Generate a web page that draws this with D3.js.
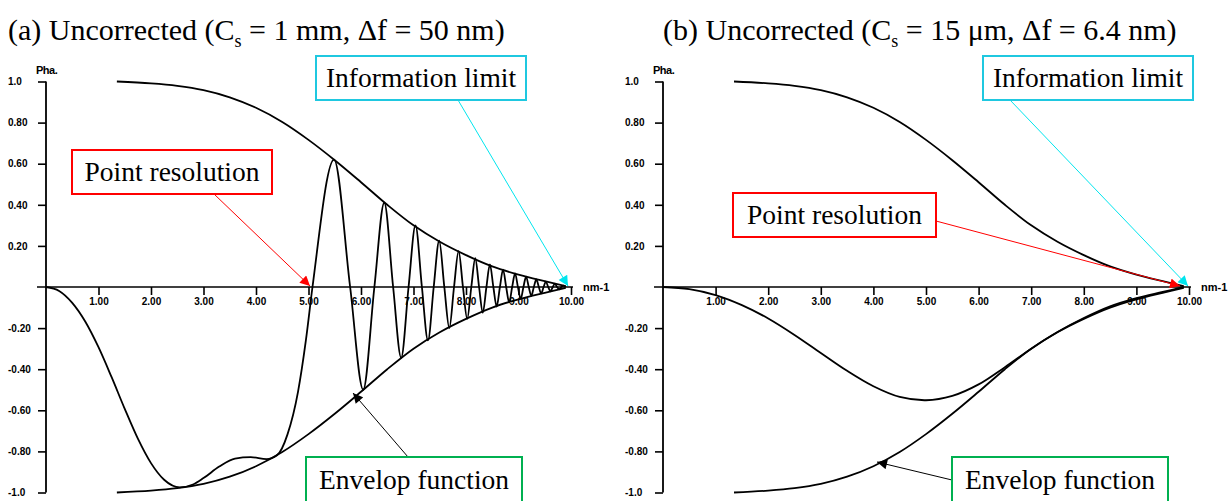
<!DOCTYPE html>
<html><head><meta charset="utf-8">
<script src="https://cdn.jsdelivr.net/npm/d3@7"></script>
<style>
html,body{margin:0;padding:0;background:#fff;}
svg{display:block;}
</style></head>
<body>
<svg id="c" width="1229" height="501"></svg>
<script>
// ---------------- data ----------------
const xTicks = [1,2,3,4,5,6,7,8,9,10];
const xTickLabels = ["1.00","2.00","3.00","4.00","5.00","6.00","7.00","8.00","9.00","10.00"];
const yTicks = [1.0,0.8,0.6,0.4,0.2,-0.2,-0.4,-0.6,-0.8,-1.0];
const yTickLabels = ["1.0","0.80","0.60","0.40","0.20","-0.20","-0.40","-0.60","-0.80","-1.0"];
const yAxisTitle = "Pha.";
const xAxisUnit = "nm-1";

// envelope function (shared)
const envK = [1.35,2.0,2.5,3.0,3.5,4.0,4.5,5.0,5.5,6.0,6.5,7.0,7.5,8.0,8.5,9.0,9.5,9.9];
const envV = [1.0,0.991,0.979,0.958,0.923,0.872,0.803,0.716,0.617,0.51,0.40,0.30,0.22,0.155,0.10,0.06,0.028,0.004];

// (a) Cs = 1 mm, df = 50 nm : phase contrast transfer
const ctfA_k = [0,0.25,0.5,0.75,1.0,1.25,1.5,1.75,2.0,2.25,2.55,2.8,3.0,3.3,3.6,3.9,4.2,4.4,4.6,4.8,4.95,5.076,
  5.487,5.793,6.042,6.255,6.443,6.612,6.765,6.906,7.038,7.160,7.276,7.385,7.489,7.587,7.682,7.772,7.859,7.942,
  8.023,8.101,8.176,8.249,8.320,8.389,8.455,8.521,8.584,8.646,8.706,8.765,8.823,8.879,8.935,8.989,9.042,9.094,
  9.145,9.195,9.244,9.292,9.340,9.387,9.433,9.478,9.522,9.566,9.609,9.652,9.693,9.735,9.776,9.816,9.856,9.9];
const ctfA_v = [0,-0.019,-0.077,-0.169,-0.293,-0.439,-0.593,-0.738,-0.857,-0.938,-0.975,-0.961,-0.930,-0.874,-0.835,-0.828,-0.838,-0.819,-0.717,-0.51,-0.26,0,
  0.62,0,-0.50,0,0.41,0,-0.345,0,0.30,0,-0.26,0,0.225,0,-0.20,0,0.175,0,
  -0.155,0,0.14,0,-0.125,0,0.11,0,-0.095,0,0.085,0,-0.075,0,0.066,0,-0.058,0,
  0.05,0,-0.043,0,0.037,0,-0.031,0,0.026,0,-0.021,0,0.016,0,-0.011,0,0.007,0];

// (b) Cs = 15 um, df = 6.4 nm
const ctfB_k = [0,0.5,1.0,1.5,2.0,2.5,3.0,3.5,4.0,4.5,5.0,5.5,6.0,6.5,7.0,7.5,8.0,8.5,9.0,9.5,9.9];
const ctfB_v = [0,-0.01,-0.039,-0.088,-0.153,-0.233,-0.321,-0.408,-0.483,-0.535,-0.551,-0.530,-0.474,-0.39,-0.30,-0.219,-0.151,-0.094,-0.054,-0.024,0];

const titles = ["(a) Uncorrected (C", "(b) Uncorrected (C"];
const titleSub = "s";
const titleRest = [" = 1 mm, \u0394f = 50 nm)", " = 15 \u03bcm, \u0394f = 6.4 nm)"];
const notes = ["Information limit","Point resolution","Envelop function"];

// ---------------- drawing ----------------
const svg = d3.select("#c");
const defs = svg.append("defs");
[["cy","#00e5ee"],["rd","#ff0000"],["bk","#000000"]].forEach(([id,col])=>{
  defs.append("marker").attr("id","m"+id).attr("viewBox","0 0 10 10")
    .attr("refX",10).attr("refY",5).attr("markerWidth",12).attr("markerHeight",10)
    .attr("markerUnits","userSpaceOnUse").attr("orient","auto")
    .append("path").attr("d","M0,0L10,5L0,10Z").attr("fill",col);
});

const panels = [
  {x0:46, x1:571, labelX:8, ctfK:ctfA_k, ctfV:ctfA_v, t:0, tx:8, ctfCurve:d3.curveMonotoneX,
   info:{box:[316,56,210,44], from:[458,100], to:[568,286]},
   pr:{box:[72,150,200,44], from:[214,194], to:[310,286]},
   env:{box:[306,457,216,46], from:[408,457], to:[353,393]}},
  {x0:663, x1:1189, labelX:625, ctfK:ctfB_k, ctfV:ctfB_v, t:1, tx:663, ctfCurve:d3.curveCatmullRom,
   info:{box:[983,56,210,44], from:[1010,100], to:[1188,286]},
   pr:{box:[733,193,203,44], from:[936,221], to:[1180,286]},
   env:{box:[952,457,216,46], from:[952,480], to:[877,462]}}
];

const y = d3.scaleLinear().domain([-1,1]).range([492.5,81.5]);

panels.forEach(p=>{
  const x = d3.scaleLinear().domain([0,10]).range([p.x0,p.x1]);
  const g = svg.append("g");

  // axes lines
  g.append("line").attr("x1",p.x0-9).attr("x2",x(10)+2).attr("y1",y(0)).attr("y2",y(0))
    .attr("stroke","#000").attr("stroke-width",1.6);
  g.append("line").attr("x1",p.x0).attr("x2",p.x0).attr("y1",y(1)).attr("y2",y(-1))
    .attr("stroke","#000").attr("stroke-width",1.8);

  // x axis ticks
  const xa = d3.axisBottom(x).tickValues(xTicks).tickSize(8)
      .tickFormat((d,i)=>xTickLabels[i]);
  const gx = g.append("g").attr("transform",`translate(0,${y(0)})`).call(xa);
  gx.select(".domain").remove();
  gx.selectAll(".tick line").attr("stroke","#000").attr("stroke-width",1.6);
  gx.selectAll(".tick text").attr("y",11).attr("dy","0.71em")
    .attr("font-family","'Liberation Sans',Arial,sans-serif").attr("font-weight","bold")
    .attr("font-size",10).attr("fill","#000");

  // y axis ticks
  const ya = d3.axisLeft(y).tickValues(yTicks).tickSize(8)
      .tickFormat((d,i)=>yTickLabels[i]);
  const gy = g.append("g").attr("transform",`translate(${p.x0},0)`).call(ya);
  gy.select(".domain").remove();
  gy.selectAll(".tick line").attr("stroke","#000").attr("stroke-width",1.6);
  gy.selectAll(".tick text").attr("x",p.labelX-p.x0).attr("text-anchor","start")
    .attr("font-family","'Liberation Sans',Arial,sans-serif").attr("font-weight","bold")
    .attr("font-size",10).attr("fill","#000");

  g.append("text").attr("x",p.x0-10).attr("y",y(1)-8).text(yAxisTitle)
    .attr("font-family","'Liberation Sans',Arial,sans-serif").attr("font-weight","bold")
    .attr("font-size",11).attr("letter-spacing",-0.5);
  g.append("text").attr("x",x(10)+12).attr("y",y(0)+4).text(xAxisUnit)
    .attr("font-family","'Liberation Sans',Arial,sans-serif").attr("font-weight","bold")
    .attr("font-size",11);

  // envelope
  const envLine = d3.line().x((d,i)=>x(envK[i])).y(d=>y(d)).curve(d3.curveCatmullRom);
  g.append("path").attr("d",envLine(envV)).attr("fill","none").attr("stroke","#000").attr("stroke-width",1.8);
  g.append("path").attr("d",envLine(envV.map(v=>-v))).attr("fill","none").attr("stroke","#000").attr("stroke-width",1.8);

  // ctf
  const ctfLine = d3.line().x((d,i)=>x(p.ctfK[i])).y(d=>y(d)).curve(p.ctfCurve);
  g.append("path").attr("d",ctfLine(p.ctfV)).attr("fill","none").attr("stroke","#000").attr("stroke-width",1.8);

  // title
  const tt = g.append("text").attr("x",p.tx).attr("y",40)
     .attr("font-family","'Liberation Serif','Times New Roman',serif").attr("font-size",30).attr("fill","#000");
  tt.append("tspan").text(titles[p.t]);
  tt.append("tspan").attr("font-size",18).attr("dy",7).text(titleSub);
  tt.append("tspan").attr("dy",-7).text(titleRest[p.t]);

  // annotations
  const ann = [[p.info,"#00e5ee","mcy",notes[0],"#1fc8e0"],[p.pr,"#ff0000","mrd",notes[1],"#ff0000"],[p.env,"#000","mbk",notes[2],"#00b050"]];
  ann.forEach(([a,lc,mk,txt,bc])=>{
    g.append("line").attr("x1",a.from[0]).attr("y1",a.from[1]).attr("x2",a.to[0]).attr("y2",a.to[1])
      .attr("stroke",lc).attr("stroke-width",1).attr("marker-end",`url(#${mk})`);
    g.append("rect").attr("x",a.box[0]).attr("y",a.box[1]).attr("width",a.box[2]).attr("height",a.box[3])
      .attr("fill","#fff").attr("stroke",bc).attr("stroke-width",2);
    g.append("text").attr("x",a.box[0]+a.box[2]/2).attr("y",a.box[1]+a.box[3]/2+9)
      .attr("text-anchor","middle").attr("font-family","'Liberation Serif','Times New Roman',serif")
      .attr("font-size",27.5).text(txt);
  });
});
</script>
</body></html>
